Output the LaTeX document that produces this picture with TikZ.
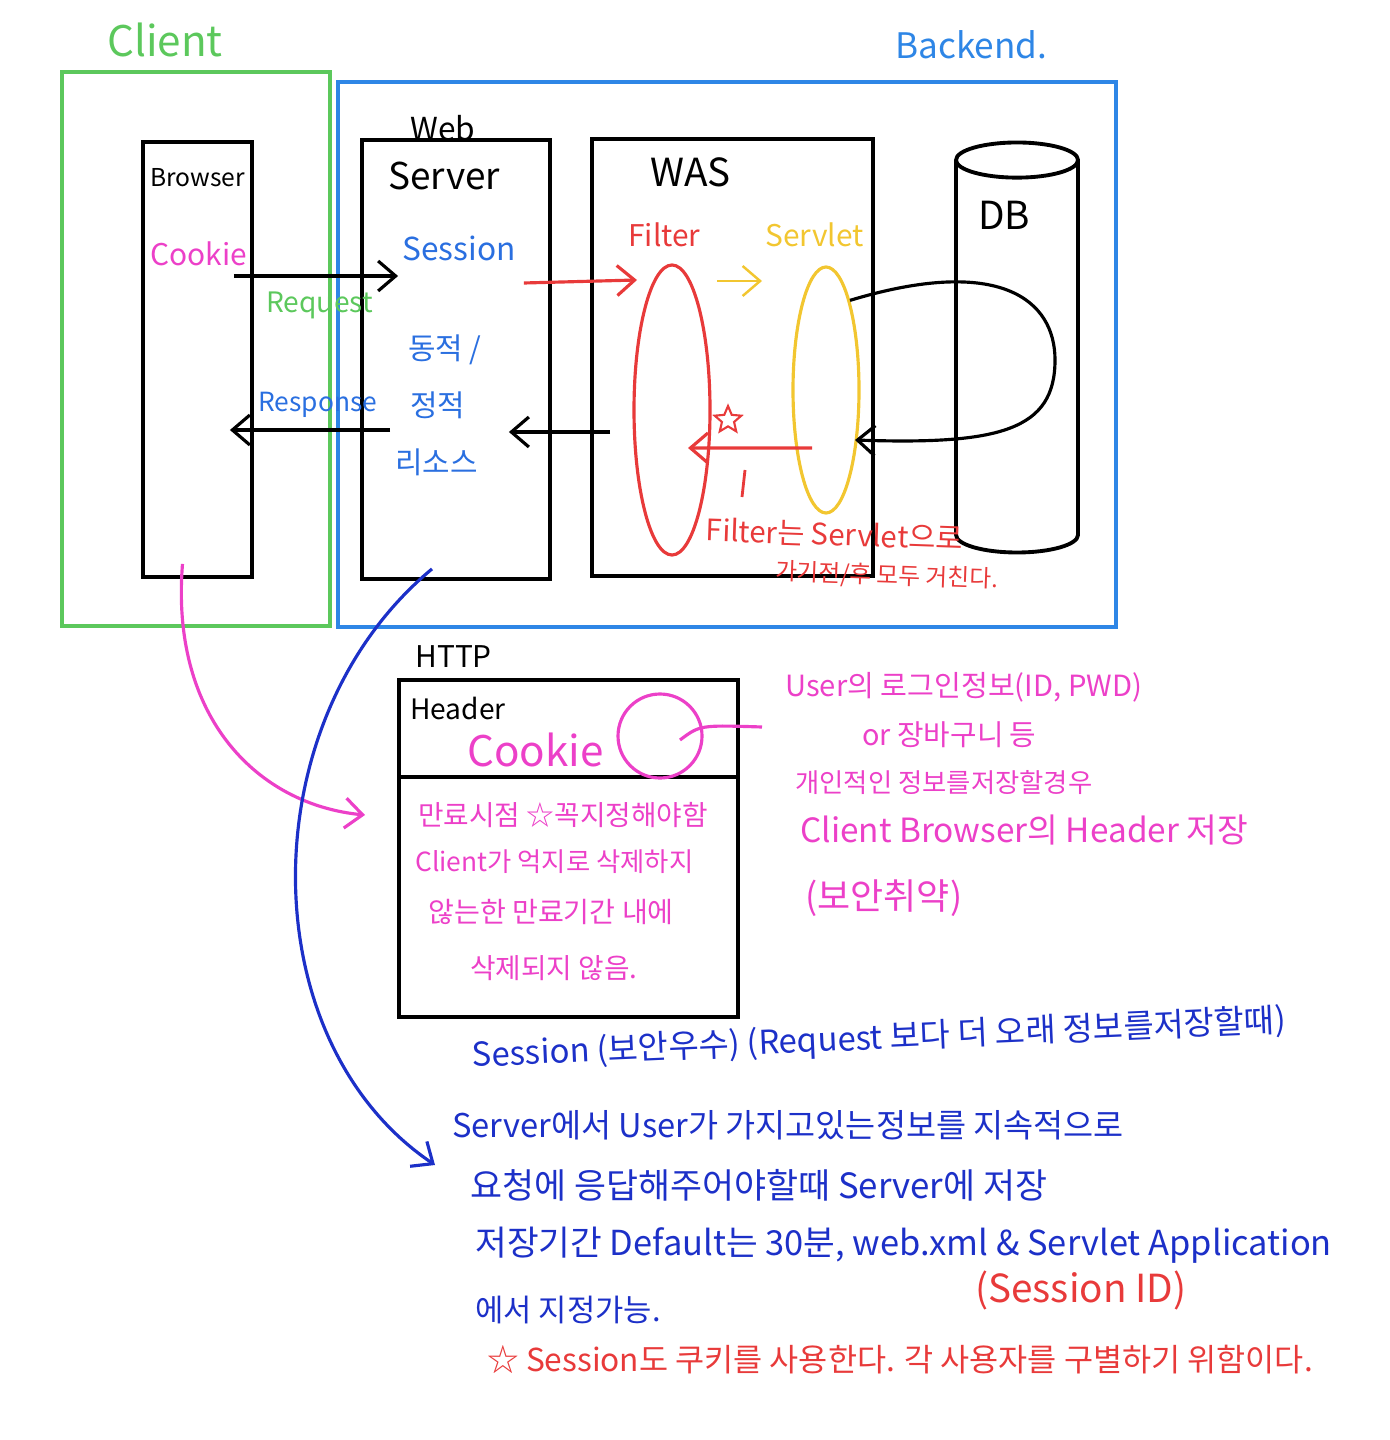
\documentclass[tikz,border=0pt]{standalone}
\usepackage{fontspec}
\setmainfont{Noto Sans CJK KR}
\usetikzlibrary{shapes.geometric,arrows.meta}
\definecolor{penGreen}{HTML}{5CC85C}
\definecolor{penBlue}{HTML}{2E86E6}
\definecolor{penSky}{HTML}{2A6FE0}
\definecolor{penDeep}{HTML}{1C30C8}
\definecolor{penPink}{HTML}{EC40C8}
\definecolor{penRed}{HTML}{E83A3A}
\definecolor{penYellow}{HTML}{F2C630}
\begin{document}
\begin{tikzpicture}[x=0.2mm, y=-0.2mm,
    lbl/.style={anchor=west, inner sep=0pt},
    fs/.style={font=\fontsize{#1}{#1}\selectfont},
    box/.style={draw, line width=2.2pt},
    zone/.style={draw=#1, line width=1.8pt},
    pen/.style={line width=1.8pt, -{Straight Barb[length=3.5mm,width=6mm]}}]
    \useasboundingbox (0,0) rectangle (1389,1440);

    % client / backend zones
    \node[zone=penGreen, minimum width=53.6mm, minimum height=110.8mm] (client) at (196,349) {};
    \node[zone=penBlue, minimum width=155.6mm, minimum height=109mm] (backend) at (727,354.5) {};
    \node[lbl, fs=24pt, penGreen] (clientlbl) at (107,40) {Client};
    \node[lbl, fs=20pt, penBlue] (backendlbl) at (895,45) {Backend.};

    % boxes
    \node[box, minimum width=21.8mm, minimum height=87mm] (browser) at (197.5,359.5) {};
    \node[box, minimum width=37.6mm, minimum height=87.8mm] (webserver) at (456,359.5) {};
    \node[box, minimum width=56.2mm, minimum height=87.4mm] (was) at (732.5,357.5) {};
    \node[box, cylinder, shape border rotate=90, aspect=3, minimum width=24.4mm, minimum height=82mm] (db) at (1017,361) {};
    \node[lbl, fs=14pt] (browserlbl) at (150,178) {Browser};
    \node[lbl, fs=17pt, penPink] (cookie) at (150,254) {Cookie};
    \node[lbl, fs=18pt] (weblbl) at (410,128) {Web};
    \node[lbl, fs=21pt] (serverlbl) at (388,176) {Server};
    \node[lbl, fs=18pt, penSky] (session) at (402,248) {Session};
    \foreach \x/\y/\t [count=\i] in {408/350/{동적 /}, 410/405/정적, 395/462/리소스}
        \node[lbl, fs=17pt, penSky] (res\i) at (\x,\y) {\t};
    \node[lbl, fs=22pt] (waslbl) at (650,172) {WAS};
    \node[lbl, fs=17pt, penRed] (filterlbl) at (628,235) {Filter};
    \node[lbl, fs=17pt, penYellow] (servletlbl) at (765,235) {Servlet};
    \node[lbl, fs=22pt] (dblbl) at (978,215) {DB};
    \node[ellipse, draw=penRed, line width=1.8pt, minimum width=15.2mm, minimum height=58mm] (filter) at (672,410) {};
    \node[ellipse, draw=penYellow, line width=1.8pt, minimum width=13.2mm, minimum height=49.2mm] (servlet) at (826,390) {};
    \node[star, star points=5, star point ratio=2.2, draw=penRed, line width=1.2pt, minimum size=5.6mm, inner sep=0pt] (star) at (728,420) {};
    \node[lbl, fs=16.8pt, penRed, rotate=-2] (fnote1) at (706,530) {Filter는 Servlet으로};
    \node[lbl, fs=13.5pt, penRed, rotate=-2] (fnote2) at (775,572) {가기전/후 모두 거친다.};

    % request / response
    \draw[pen] ([xshift=-4mm,yshift=16.7mm]browser.east) -- ([xshift=7.6mm,yshift=16.7mm]webserver.west);
    \node[lbl, fs=16pt, penGreen] (reqlbl) at (266,305) {Request};
    \draw[pen] ([xshift=6mm,yshift=-14.1mm]webserver.west) -- ([xshift=-4.8mm,yshift=-14.1mm]browser.east);
    \node[lbl, fs=15pt, penSky] (resplbl) at (258,405) {Response};
    \draw[pen] ([xshift=4mm,yshift=-14.9mm]was.west) -- ([xshift=-8.6mm,yshift=-14.5mm]webserver.east);
    \draw[pen, penRed] ([xshift=1.6mm,yshift=-7mm]session.east) -- ([xshift=-7mm,yshift=26mm]filter.center);
    \draw[pen, penYellow, line width=1.4pt] ([xshift=3.2mm,yshift=-9.2mm]filterlbl.east) -- ([xshift=-0.6mm,yshift=-9.2mm]servletlbl.west);
    \draw[pen, penRed] ([xshift=-2.8mm,yshift=-11.6mm]servlet.center) -- ([xshift=3.2mm,yshift=-7.6mm]filter.center);
    \draw[penRed, line width=1.6pt] ([xshift=3.4mm,yshift=-10mm]star.center) -- ([xshift=2.8mm,yshift=-15.4mm]star.center);
    \draw[pen] (servlet.75) .. controls (1000,255) and (1055,300) .. (1055,360)
        .. controls (1055,430) and (1000,445) .. ([xshift=5.8mm,yshift=-10mm]servlet.center);

    % http header
    \node[box, minimum width=67.8mm, minimum height=67.4mm] (http) at (568.5,848.5) {};
    \draw[line width=2.2pt] ([yshift=-19.8mm]http.north west) -- ([yshift=-19.8mm]http.north east);
    \node[lbl, fs=17pt] (httplbl) at (415,657) {HTTP};
    \node[lbl, fs=16pt] (headerlbl) at (410,708) {Header};
    \node[lbl, fs=24pt, penPink] (cookie2) at (467,750) {Cookie};
    \node[circle, draw=penPink, line width=1.8pt, minimum size=16.8mm] (ring) at (660,736) {};
    \foreach \x/\y/\s/\t [count=\i] in {418/815/15.8/{만료시점 ☆꼭지정해야함}, 415/862/15/{Client가 억지로 삭제하지},
        428/912/16/{않는한 만료기간 내에}, 470/968/15.8/{삭제되지 않음.}}
        \node[lbl, fs=\s pt, penPink] (exp\i) at (\x,\y) {\t};
    \foreach \x/\y/\s/\t [count=\i] in {785/687/16.6/{User의 로그인정보(ID, PWD)}, 862/735/16.4/{or 장바구니 등},
        795/783/15/{개인적인 정보를저장할경우}, 800/830/19/{Client Browser의 Header 저장}, 805/898/20.5/{(보안취약)}}
        \node[lbl, fs=\s pt, penPink] (user\i) at (\x,\y) {\t};
    \draw[penPink, line width=1.8pt] ([xshift=4mm,yshift=-0.8mm]ring.center) .. controls (700,725) .. ([xshift=-4.6mm,yshift=-8mm]user1.west);
    \draw[pen, penPink] ([xshift=-3mm,yshift=3mm]browser.south) .. controls (170,720) and (260,805) .. ([xshift=-10.6mm]exp1.west);

    % session notes
    \node[lbl, fs=18.7pt, penDeep, rotate=2.5] (sess1) at (472,1057) {Session (보안우수) (Request 보다 더 오래 정보를저장할때)};
    \foreach \x/\y/\s/\t [count=\i] in {452/1125/18.6/{Server에서 User가 가지고있는정보를 지속적으로},
        470/1185/19.8/{요청에 응답해주어야할때 Server에 저장},
        475/1245/19.6/{저장기간 Default는 30분, web.xml \& Servlet Application}, 475/1310/17.5/{에서 지정가능.}}
        \node[lbl, fs=\s pt, penDeep] (sess\the\numexpr\i+1\relax) at (\x,\y) {\t};
    \node[lbl, fs=22pt, penRed] (sessid) at (975,1290) {(Session ID)};
    \node[lbl, fs=18pt, penRed] (sessnote) at (487,1360) {☆ Session도 쿠키를 사용한다. 각 사용자를 구별하기 위함이다.};
    \draw[pen, penDeep] ([xshift=-4.8mm,yshift=2.4mm]webserver.south) .. controls (250,720) and (250,1040) .. ([xshift=-3.4mm,yshift=-8mm]sess2.west);
\end{tikzpicture}
\end{document}
